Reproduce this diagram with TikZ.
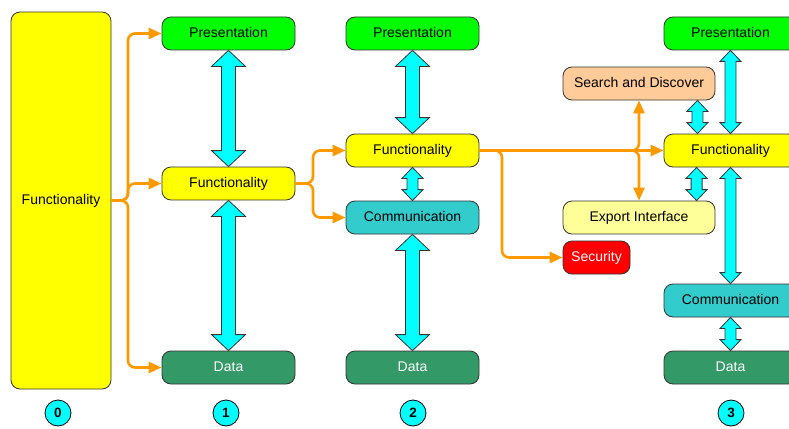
\documentclass[tikz,border=0pt]{standalone}
\usepackage{fontspec}
\setmainfont{Liberation Sans}
\usetikzlibrary{arrows.meta,calc}
\definecolor{cyanA}{HTML}{00FFFF}
\definecolor{orangeL}{HTML}{FF9900}
\definecolor{dataG}{HTML}{339966}
\definecolor{commT}{HTML}{33CCCC}
\definecolor{presG}{HTML}{00FF00}
\definecolor{funcY}{HTML}{FFFF00}
\definecolor{searchP}{HTML}{FFCC99}
\definecolor{exportY}{HTML}{FFFF99}
\definecolor{secR}{HTML}{FF0000}
\definecolor{edgeC}{HTML}{333333}
\tikzset{
  box/.style={draw=edgeC, line width=0.8pt, rounded corners=9pt, minimum width=133pt,
    minimum height=33pt, inner sep=0pt, text height=10.5pt, text depth=2pt,
    font=\fontsize{14}{16}\selectfont},
  pres/.style={box, fill=presG},
  func/.style={box, fill=funcY},
  comm/.style={box, fill=commT},
  data/.style={box, fill=dataG, text=white},
  circ/.style={circle, draw=black, line width=0.8pt, fill=cyanA, minimum size=26pt,
    inner sep=0pt, font=\fontsize{13.5}{15}\bfseries},
  barrow/.style={draw=edgeC, line width=0.8pt, fill=cyanA, line join=miter},
  oline/.style={draw=orangeL, line width=2.6pt, rounded corners=7pt,
    -{Triangle[length=13pt,width=11pt]}},
}
% vertical double block arrow: x from #1, top y from #1, bottom y from #2
\newcommand{\vbarrow}[5]{%
  \draw[barrow] let \p1=(#1), \p2=(#2) in
    (\x1,\y1) -- (\x1+#4pt,\y1-#5pt) -- (\x1+#3pt,\y1-#5pt) -- (\x1+#3pt,\y2+#5pt)
    -- (\x1+#4pt,\y2+#5pt) -- (\x1,\y2) -- (\x1-#4pt,\y2+#5pt) -- (\x1-#3pt,\y2+#5pt)
    -- (\x1-#3pt,\y1-#5pt) -- (\x1-#4pt,\y1-#5pt) -- cycle;}
\begin{document}
\begin{tikzpicture}[x=1pt,y=-1pt]
\useasboundingbox (0,0) rectangle (789,428);
\clip (0,0) rectangle (789,428);
% column 0
\node[func, minimum width=100pt, minimum height=377pt] (f0) at (61,200.5) {Functionality};
% column 1
\node[pres] (p1) at (228.5,33.5) {Presentation};
\node[func] (f1) at (228.5,183.5) {Functionality};
\node[data] (d1) at (228.5,367.5) {Data};
% column 2
\node[pres] (p2) at (412.5,33.5) {Presentation};
\node[func] (f2) at (412.5,150.5) {Functionality};
\node[comm] (c2) at (412.5,217.5) {Communication};
\node[data] (d2) at (412.5,367.5) {Data};
% column 3
\node[pres] (p3) at (730.5,33.5) {Presentation};
\node[func] (f3) at (730.5,150.5) {Functionality};
\node[comm] (c3) at (730.5,300.5) {Communication};
\node[data] (d3) at (730.5,367.5) {Data};
\node[box, fill=searchP, minimum width=152pt] (sd) at (639,83.5) {Search and Discover};
\node[box, fill=exportY, minimum width=152pt] (ei) at (639,217.5) {Export Interface};
\node[box, fill=secR, text=white, minimum width=67pt] (se) at (596.5,257.5) {Security};
% numbers
\node[circ] (n0) at (58,413) {0};
\node[circ] (n1) at (226,413) {1};
\node[circ] (n2) at (413,413) {2};
\node[circ] (n3) at (731,413) {3};
% block arrows
\vbarrow{p1.south}{f1.north}{7}{17}{16}
\vbarrow{f1.south}{d1.north}{7}{17}{16}
\vbarrow{p2.south}{f2.north}{7}{17}{16}
\vbarrow{f2.south}{c2.north}{5.5}{10.5}{11}
\vbarrow{c2.south}{d2.north}{7}{17}{16}
\vbarrow{p3.south}{f3.north}{5.5}{10.5}{11}
\vbarrow{f3.south}{c3.north}{5.5}{10.5}{11}
\vbarrow{c3.south}{d3.north}{5.5}{10.5}{11}
\vbarrow{$(sd.south east)+(-18pt,0)$}{f3.north}{5.5}{10.5}{11}
\vbarrow{$(f3.south west)+(33pt,0)$}{ei.north}{5.5}{10.5}{11}
% orange connectors
\coordinate (t0) at (128,200.5);
\draw[oline] (f0.east) -- (t0) |- (p1.west);
\draw[oline] (f0.east) -- (t0) |- (f1.west);
\draw[oline] (f0.east) -- (t0) |- (d1.west);
\coordinate (t1) at (313,183.5);
\draw[oline] (f1.east) -- (t1) |- (f2.west);
\draw[oline] (f1.east) -- (t1) |- (c2.west);
\coordinate (t2) at (502,150.5);
\draw[oline] (f2.east) -- (f3.west);
\draw[oline] (f2.east) -- (t2) |- (se.west);
\draw[oline] (f2.east) -| (sd.south);
\draw[oline] (f2.east) -| (ei.north);
\end{tikzpicture}
\end{document}
